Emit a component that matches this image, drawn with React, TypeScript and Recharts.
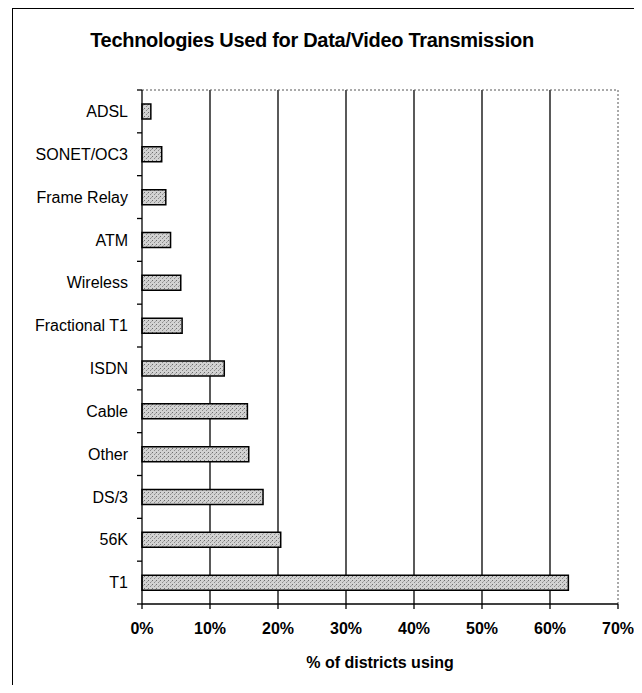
import React from "react";
import { BarChart, Bar, XAxis, YAxis, CartesianGrid, Label } from "recharts";

const categories = [
  "ADSL",
  "SONET/OC3",
  "Frame Relay",
  "ATM",
  "Wireless",
  "Fractional T1",
  "ISDN",
  "Cable",
  "Other",
  "DS/3",
  "56K",
  "T1",
];
const percentUsing = [1.3, 2.9, 3.5, 4.2, 5.7, 5.9, 12.1, 15.5, 15.7, 17.8, 20.4, 62.7];
const xTicks = [0, 10, 20, 30, 40, 50, 60, 70];
const gridValues = [10, 20, 30, 40, 50, 60];
const xMax = 70;

const data = categories.map((name, i) => ({ name, value: percentUsing[i] }));

const FONT = '"Liberation Sans", Arial, sans-serif';

// category labels, with the tick marks sitting on the band edges like Excel does
const CategoryTick = (props: any) => {
  const { x, y, payload, index, visibleTicksCount } = props;
  const half = payload && payload.offset ? payload.offset : 21.4;
  const lx1 = x + 9;
  const lx2 = x + 14;
  const last = index === (visibleTicksCount ?? categories.length) - 1;
  return (
    <g>
      <text
        x={x}
        y={y}
        dy="0.355em"
        textAnchor="end"
        fontSize={16}
        fontFamily={FONT}
        fill="#000"
      >
        {payload.value}
      </text>
      <line x1={lx1} x2={lx2} y1={y - half} y2={y - half} stroke="#000" strokeWidth={1.3} />
      {last && <line x1={lx1} x2={lx2} y1={y + half} y2={y + half} stroke="#000" strokeWidth={1.3} />}
    </g>
  );
};

export default function App() {
  return (
    <div
      style={{
        position: "relative",
        width: 642,
        height: 693,
        margin: -8,
        overflow: "hidden",
        background: "#fff",
        fontFamily: FONT,
      }}
    >
      <div
        style={{
          position: "absolute",
          left: 12,
          top: 8,
          width: 640,
          height: 720,
          borderTop: "1.5px solid #000",
          borderLeft: "1.5px solid #000",
          boxSizing: "border-box",
        }}
      />
      <div
        style={{
          position: "absolute",
          left: 0,
          top: 29,
          width: 624,
          textAlign: "center",
          fontSize: 20,
          lineHeight: "22px",
          fontWeight: "bold",
          letterSpacing: -0.3,
          color: "#000",
        }}
      >
        Technologies Used for Data/Video Transmission
      </div>
      <div style={{ position: "absolute", left: 0, top: 0 }}>
        <BarChart
          width={642}
          height={693}
          data={data}
          layout="vertical"
          margin={{ top: 90, right: 24, bottom: 0, left: 0 }}
          barSize={15}
        >
          <defs>
            <pattern id="stipple" width="4" height="4" patternUnits="userSpaceOnUse">
              <rect width="4" height="4" fill="#d2d2d2" />
              <rect x="0" y="0" width="1" height="1" fill="#6e6e6e" />
              <rect x="2" y="2" width="1" height="1" fill="#8c8c8c" />
              <rect x="3" y="1" width="1" height="1" fill="#a8a8a8" />
            </pattern>
          </defs>
          <CartesianGrid
            horizontal={false}
            stroke="#000"
            strokeWidth={1.3}
            verticalCoordinatesGenerator={({ offset }: any) =>
              gridValues.map((v) => offset.left + (offset.width * v) / xMax)
            }
          />
          <CartesianGrid
            stroke="#555"
            strokeDasharray="2 2"
            horizontalCoordinatesGenerator={({ offset }: any) => [offset.top]}
            verticalCoordinatesGenerator={({ offset }: any) => [offset.left + offset.width]}
          />
          <XAxis
            type="number"
            domain={[0, xMax]}
            ticks={xTicks}
            interval={0}
            tickFormatter={(v) => `${v}%`}
            axisLine={{ stroke: "#000", strokeWidth: 1.3 }}
            tickLine={{ stroke: "#000", strokeWidth: 1.3 }}
            tickSize={5}
            tickMargin={14}
            tick={{ fontSize: 16, fontWeight: "bold", fill: "#000", fontFamily: FONT }}
            height={89}
          >
            <Label
              value="% of districts using"
              position="insideBottom"
              offset={25}
              style={{ fontSize: 16, fontWeight: "bold", fill: "#000", fontFamily: FONT }}
            />
          </XAxis>
          <YAxis
            type="category"
            dataKey="name"
            width={142}
            axisLine={{ stroke: "#000", strokeWidth: 1.3 }}
            tickLine={false}
            tickSize={5}
            tickMargin={9}
            interval={0}
            tick={(p: any) => <CategoryTick {...p} />}
          />
          <Bar
            dataKey="value"
            fill="url(#stipple)"
            stroke="#000"
            strokeWidth={1.5}
            isAnimationActive={false}
          />
        </BarChart>
      </div>
    </div>
  );
}
